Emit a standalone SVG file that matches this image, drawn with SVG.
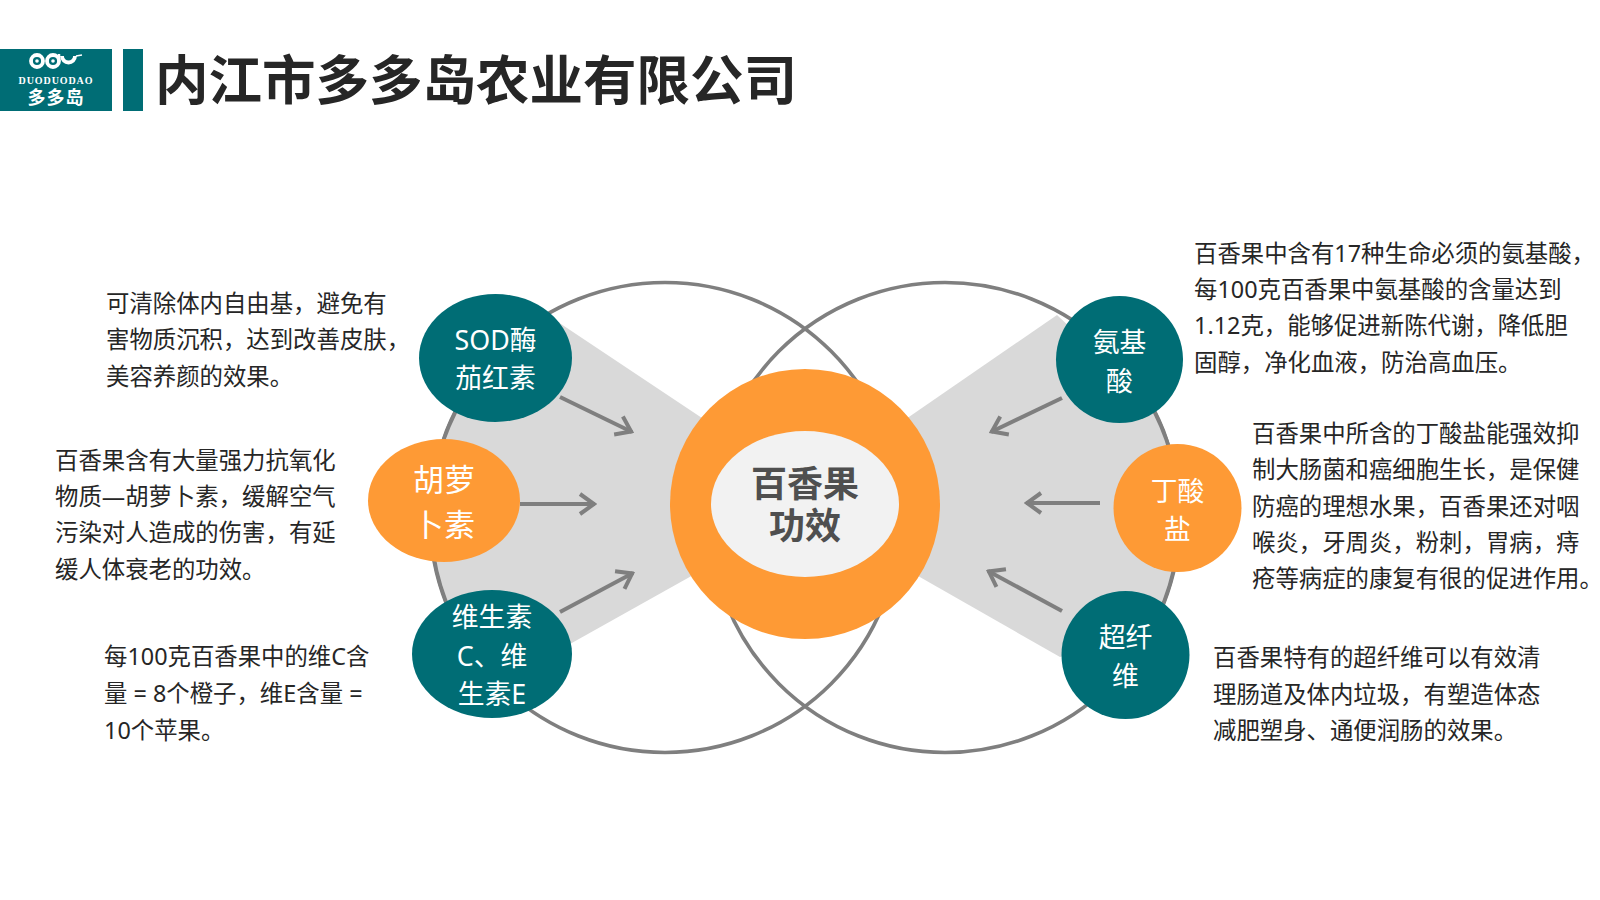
<svg xmlns="http://www.w3.org/2000/svg" width="1600" height="900" viewBox="0 0 1600 900">
<style>
text{font-family:"Noto Sans","Noto Sans CJK SC",sans-serif}
.body{font-size:23.4px;fill:#262626}
.node{font-size:26.8px;fill:#fff;text-anchor:middle}
.big{font-size:31px;fill:#fff;text-anchor:middle}
.core{font-size:36px;font-weight:700;fill:#4f4f4f;text-anchor:middle}
.teal{fill:#006d75}
.orange{fill:#fe9a35}
.ring{fill:none;stroke:#7f7f7f;stroke-width:3.6}
.arrow{fill:none;stroke:#7f7f7f;stroke-width:4;marker-end:url(#head)}
.logo{fill:none;stroke:#fff;stroke-width:3.8}
</style>
<defs>
<marker id="head" markerUnits="userSpaceOnUse" viewBox="0 0 20 24" refX="18" refY="12" markerWidth="20" markerHeight="24" orient="auto">
<path d="M3,2 L17,12 L3,22" fill="none" stroke="#7f7f7f" stroke-width="4"/>
</marker>
</defs>
<rect width="1600" height="900" fill="#fff"/>

<g id="header">
<rect class="teal" x="0" y="49" width="112" height="62"/>
<rect class="teal" x="123" y="49" width="20" height="62"/>
<g id="logo-mark">
<circle class="logo" cx="37" cy="61" r="6"/>
<circle class="logo" cx="53" cy="61" r="6"/>
<path class="logo" d="M62,56 A6.5,6.5 0 1 0 75,56"/>
<path class="logo" style="stroke-width:2.5" d="M59,61 V54"/>
<circle cx="37" cy="61" r="1.8" fill="#fff"/>
<circle cx="53" cy="61" r="1.8" fill="#fff"/>
<path class="logo" style="stroke-width:1.5" d="M76,56 L82,55"/>
</g>
<text x="56" y="84" font-size="10" font-weight="700" fill="#fff" text-anchor="middle" letter-spacing="0.9" style="font-family:'Liberation Serif',serif">DUODUODAO</text>
<text x="56" y="104" font-size="18" font-weight="700" fill="#fff" text-anchor="middle" letter-spacing="1">多多岛</text>
<text x="155" y="100" font-size="53.5" font-weight="700" fill="#262626">内江市多多岛农业有限公司</text>
</g>

<g id="backdrop">
<circle class="ring" cx="665" cy="517.5" r="235"/>
<circle class="ring" cx="945" cy="517.5" r="235"/>
<path fill="#d9d9d9" d="M558,322 L720,430 L720,560 L570,644 L467,640 A235,235 0 0 1 462,400 Z"/>
<path fill="#d9d9d9" d="M1057,315 L890,430 L890,560 L1060,657 L1143,640 A235,235 0 0 0 1148,400 Z"/>
<path class="ring" d="M467,643 A235,235 0 0 1 462,400"/>
<path class="ring" d="M1143,643 A235,235 0 0 0 1148,400"/>
</g>

<g id="connectors">
<path class="arrow" d="M560,397 L632,432"/>
<path class="arrow" d="M520,504 L595,504"/>
<path class="arrow" d="M560,612 L633,573"/>
<path class="arrow" d="M1062,398 L991,432"/>
<path class="arrow" d="M1100,503 L1026,503"/>
<path class="arrow" d="M1062,611 L988,571"/>
</g>

<g id="node-core">
<circle class="orange" cx="805" cy="504" r="135"/>
<ellipse cx="805" cy="504" rx="94" ry="73" fill="#f2f2f2"/>
<text class="core" x="805" y="497">百香果<tspan x="805" dy="42">功效</tspan></text>
</g>

<g id="node-sod">
<ellipse class="teal" cx="495.5" cy="358" rx="76.5" ry="64"/>
<text class="node" x="495.5" y="350">SOD酶</text>
<text class="node" x="495.5" y="388">茄红素</text>
</g>
<g id="node-carotene">
<ellipse class="orange" cx="444" cy="500.5" rx="76" ry="61.5"/>
<text class="big" x="444" y="491">胡萝</text>
<text class="big" x="444" y="536">卜素</text>
</g>
<g id="node-vitamin">
<ellipse class="teal" cx="492" cy="654" rx="80" ry="64"/>
<text class="node" x="492" y="627">维生素</text>
<text class="node" x="492" y="666">C、维</text>
<text class="node" x="492" y="704">生素E</text>
</g>
<g id="node-amino">
<circle class="teal" cx="1119.5" cy="359.5" r="63.5"/>
<text class="node" x="1119.5" y="352">氨基</text>
<text class="node" x="1119.5" y="391">酸</text>
</g>
<g id="node-butyrate">
<circle class="orange" cx="1177.5" cy="508" r="64"/>
<text class="node" x="1177.5" y="501">丁酸</text>
<text class="node" x="1177.5" y="539">盐</text>
</g>
<g id="node-fiber">
<circle class="teal" cx="1125.5" cy="655" r="64"/>
<text class="node" x="1125.5" y="647">超纤</text>
<text class="node" x="1125.5" y="686">维</text>
</g>

<g id="desc-sod">
<text class="body" x="106" y="312">可清除体内自由基，避免有</text>
<text class="body" x="106" y="348">害物质沉积，达到改善皮肤，</text>
<text class="body" x="106" y="385">美容养颜的效果。</text>
</g>
<g id="desc-carotene">
<text class="body" x="55" y="469">百香果含有大量强力抗氧化</text>
<text class="body" x="55" y="505">物质—胡萝卜素，缓解空气</text>
<text class="body" x="55" y="541">污染对人造成的伤害，有延</text>
<text class="body" x="55" y="578">缓人体衰老的功效。</text>
</g>
<g id="desc-vitamin">
<text class="body" x="104" y="665">每100克百香果中的维C含</text>
<text class="body" x="104" y="702">量 = 8个橙子，维E含量 =</text>
<text class="body" x="104" y="739">10个苹果。</text>
</g>
<g id="desc-amino">
<text class="body" x="1194" y="262">百香果中含有17种生命必须的氨基酸，</text>
<text class="body" x="1194" y="298">每100克百香果中氨基酸的含量达到</text>
<text class="body" x="1194" y="334">1.12克，能够促进新陈代谢，降低胆</text>
<text class="body" x="1194" y="371">固醇，净化血液，防治高血压。</text>
</g>
<g id="desc-butyrate">
<text class="body" x="1252" y="442">百香果中所含的丁酸盐能强效抑</text>
<text class="body" x="1252" y="478">制大肠菌和癌细胞生长，是保健</text>
<text class="body" x="1252" y="515">防癌的理想水果，百香果还对咽</text>
<text class="body" x="1252" y="551">喉炎，牙周炎，粉刺，胃病，痔</text>
<text class="body" x="1252" y="587">疮等病症的康复有很的促进作用。</text>
</g>
<g id="desc-fiber">
<text class="body" x="1213" y="666">百香果特有的超纤维可以有效清</text>
<text class="body" x="1213" y="703">理肠道及体内垃圾，有塑造体态</text>
<text class="body" x="1213" y="739">减肥塑身、通便润肠的效果。</text>
</g>
</svg>
